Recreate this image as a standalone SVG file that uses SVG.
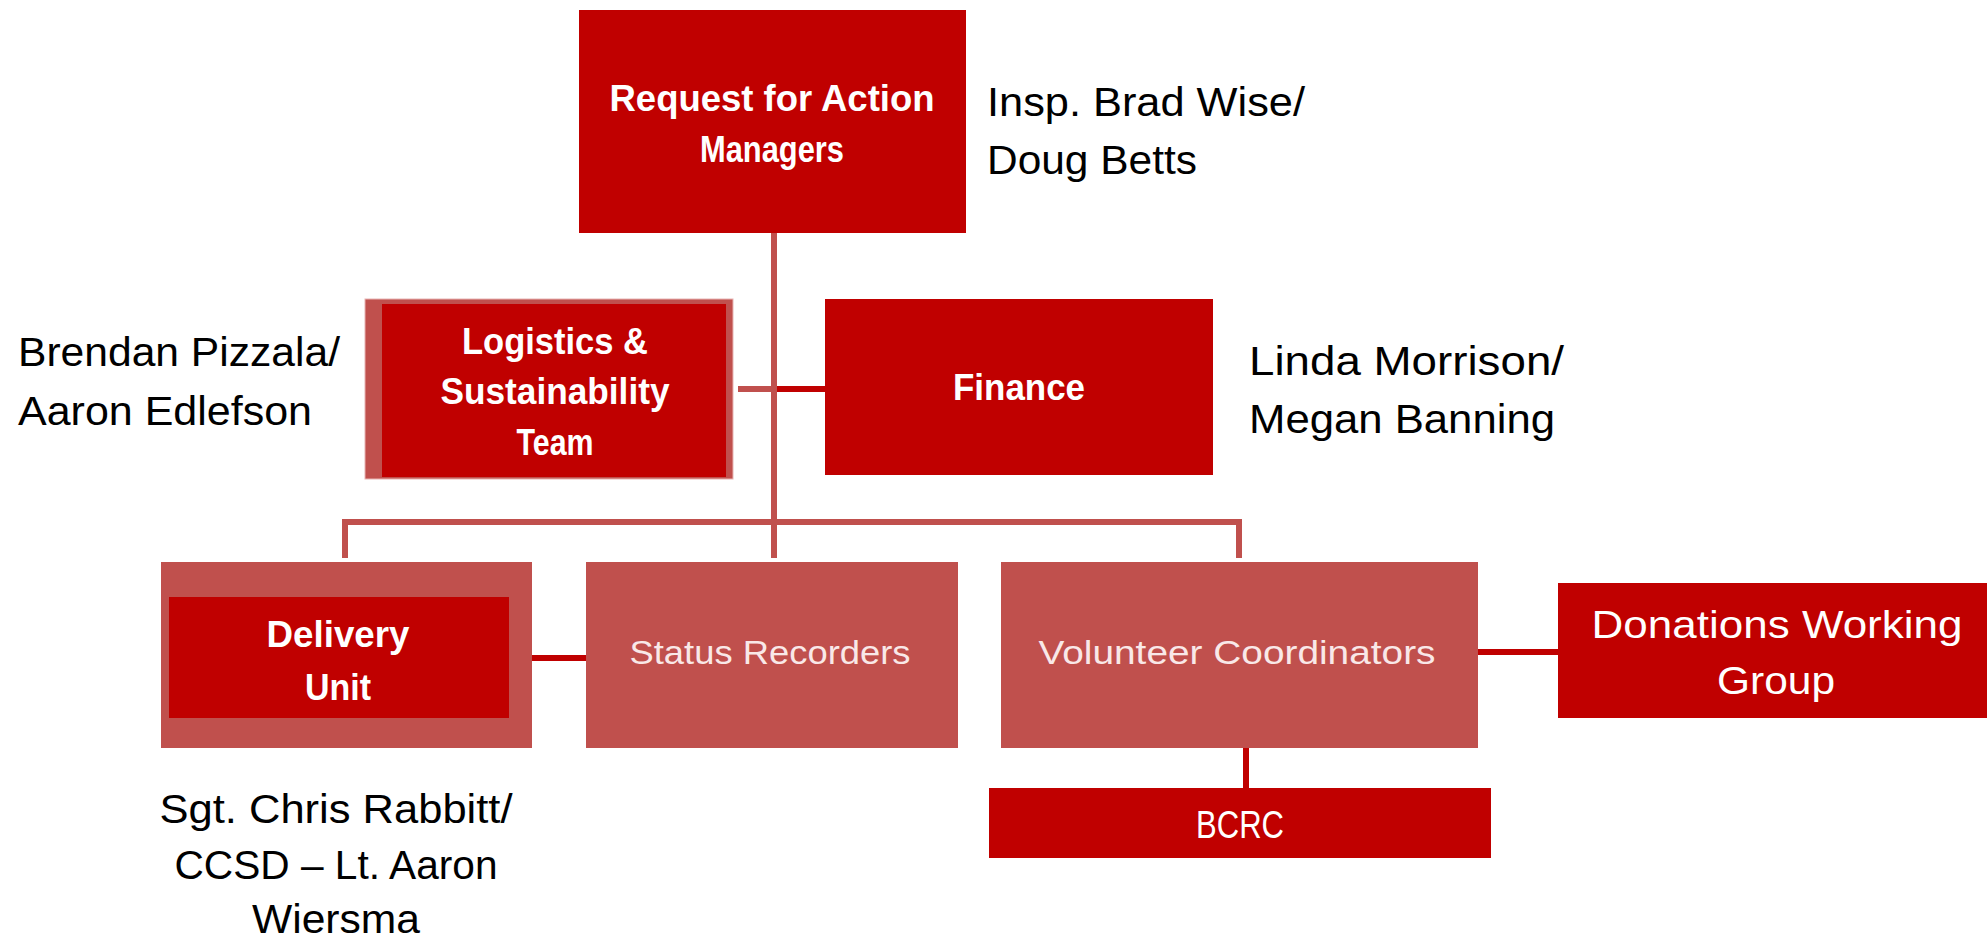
<svg xmlns="http://www.w3.org/2000/svg" width="1987" height="943" viewBox="0 0 1987 943">
<style>
.dark{fill:#c00000}
.light{fill:#c0504d}
.bt{font-family:"Liberation Sans",Arial,sans-serif;font-weight:bold;font-size:36px;fill:#ffffff;text-anchor:middle}
.rt{font-family:"Liberation Sans",Arial,sans-serif;font-size:34px;fill:#f9e8e8;text-anchor:middle}
.wt{font-family:"Liberation Sans",Arial,sans-serif;font-size:39px;fill:#ffffff;text-anchor:middle}
.lb{font-family:"Liberation Sans",Arial,sans-serif;font-size:41px;fill:#000000}
.cl{fill:none;stroke:#c0504d;stroke-width:6}
.cd{fill:none;stroke:#c00000;stroke-width:6}
</style>
<rect width="1987" height="943" fill="#ffffff"/>
<g id="connectors">
<line class="cl" x1="774" y1="233" x2="774" y2="558"/>
<polyline class="cl" points="345,558 345,522 1239,522 1239,558"/>
<line class="cl" x1="738" y1="389" x2="774" y2="389" stroke-width="5"/>
<line class="cd" x1="777" y1="389" x2="826" y2="389"/>
<line class="cd" x1="528" y1="658" x2="597" y2="658"/>
<line class="cd" x1="1477" y1="652" x2="1558" y2="652"/>
<line class="cd" x1="1246" y1="742" x2="1246" y2="788"/>
</g>
<g id="node-rfa">
<rect class="dark" x="579" y="10" width="387" height="223"/>
<text class="bt" x="772" y="111" textLength="325" lengthAdjust="spacingAndGlyphs">Request for Action</text>
<text class="bt" x="772" y="162" textLength="144" lengthAdjust="spacingAndGlyphs">Managers</text>
</g>
<g id="label-rfa">
<text class="lb" x="987" y="116" textLength="318" lengthAdjust="spacingAndGlyphs">Insp. Brad Wise/</text>
<text class="lb" x="987" y="174" textLength="210" lengthAdjust="spacingAndGlyphs">Doug Betts</text>
</g>
<g id="node-logistics">
<rect class="light" x="365" y="299" width="368" height="180" stroke="#e8b4b3" stroke-width="1"/>
<rect class="dark" x="382" y="304" width="344" height="173"/>
<text class="bt" x="555" y="354" textLength="186" lengthAdjust="spacingAndGlyphs">Logistics &amp;</text>
<text class="bt" x="555" y="404" textLength="229" lengthAdjust="spacingAndGlyphs">Sustainability</text>
<text class="bt" x="555" y="455" textLength="77" lengthAdjust="spacingAndGlyphs">Team</text>
</g>
<g id="label-logistics">
<text class="lb" x="18" y="366" textLength="322" lengthAdjust="spacingAndGlyphs">Brendan Pizzala/</text>
<text class="lb" x="18" y="425" textLength="294" lengthAdjust="spacingAndGlyphs">Aaron Edlefson</text>
</g>
<g id="node-finance">
<rect class="dark" x="825" y="299" width="388" height="176"/>
<text class="bt" x="1019" y="400" textLength="132" lengthAdjust="spacingAndGlyphs">Finance</text>
</g>
<g id="label-finance">
<text class="lb" x="1249" y="375" textLength="315" lengthAdjust="spacingAndGlyphs">Linda Morrison/</text>
<text class="lb" x="1249" y="433" textLength="306" lengthAdjust="spacingAndGlyphs">Megan Banning</text>
</g>
<g id="node-delivery">
<rect class="light" x="161" y="562" width="371" height="186"/>
<rect class="dark" x="169" y="597" width="340" height="121"/>
<text class="bt" x="338" y="647" textLength="143" lengthAdjust="spacingAndGlyphs">Delivery</text>
<text class="bt" x="338" y="700" textLength="66" lengthAdjust="spacingAndGlyphs">Unit</text>
</g>
<g id="label-delivery">
<text class="lb" x="336" y="823" text-anchor="middle" textLength="353" lengthAdjust="spacingAndGlyphs">Sgt. Chris Rabbitt/</text>
<text class="lb" x="336" y="879" text-anchor="middle" textLength="323" lengthAdjust="spacingAndGlyphs">CCSD – Lt. Aaron</text>
<text class="lb" x="336" y="933" text-anchor="middle" textLength="168" lengthAdjust="spacingAndGlyphs">Wiersma</text>
</g>
<g id="node-status">
<rect class="light" x="586" y="562" width="372" height="186"/>
<text class="rt" x="770" y="664" textLength="281" lengthAdjust="spacingAndGlyphs">Status Recorders</text>
</g>
<g id="node-volunteer">
<rect class="light" x="1001" y="562" width="477" height="186"/>
<text class="rt" x="1237" y="664" textLength="397" lengthAdjust="spacingAndGlyphs">Volunteer Coordinators</text>
</g>
<g id="node-donations">
<rect class="dark" x="1558" y="583" width="429" height="135"/>
<text class="wt" x="1777" y="638" textLength="371" lengthAdjust="spacingAndGlyphs">Donations Working</text>
<text class="wt" x="1776" y="694" textLength="118" lengthAdjust="spacingAndGlyphs">Group</text>
</g>
<g id="node-bcrc">
<rect class="dark" x="989" y="788" width="502" height="70"/>
<text class="wt" x="1240" y="838" font-size="33" textLength="88" lengthAdjust="spacingAndGlyphs">BCRC</text>
</g>
</svg>
